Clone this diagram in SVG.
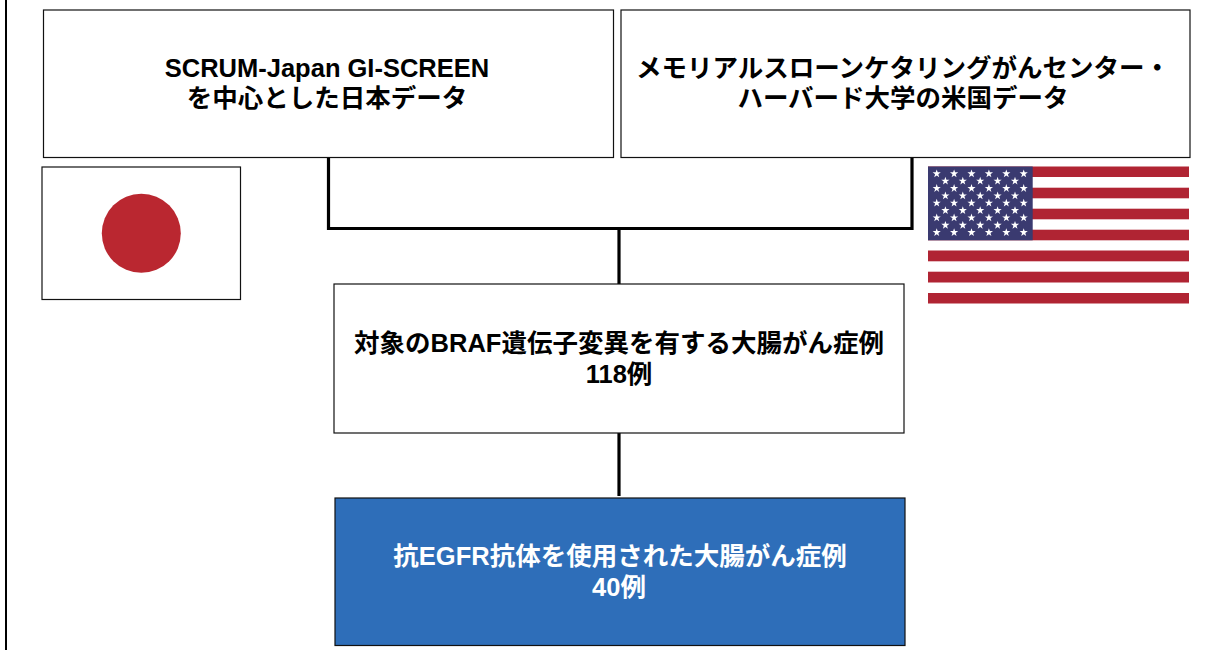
<svg xmlns="http://www.w3.org/2000/svg" xmlns:xlink="http://www.w3.org/1999/xlink" width="1215" height="650" viewBox="0 0 1215 650">
<style>
.box{fill:#fff;stroke:#111;stroke-width:1.2}
.t{font-family:"Liberation Sans","Noto Sans CJK JP",sans-serif;font-weight:700;font-size:25.5px;text-anchor:middle;fill:#000}
.w{fill:#fff}
.conn{fill:none;stroke:#000;stroke-width:3.2}
.red{fill:#b02433}
</style>
<defs>
<polygon id="s" points="0,-4.3 1,-1.4 4.1,-1.4 1.6,0.5 2.5,3.5 0,1.7 -2.5,3.5 -1.6,0.5 -4.1,-1.4 -1,-1.4" fill="#fff"/>
</defs>
<rect width="1215" height="650" fill="#fff"/>
<line x1="6" y1="0" x2="6" y2="650" stroke="#000" stroke-width="2"/>
<g id="connectors" class="conn">
<path d="M328.500 158V228.500H912V158"/>
<path d="M619 228.500V284"/>
<path d="M619 433V496"/>
</g>
<g id="node-japan-data">
<rect class="box" x="43.500" y="10" width="570" height="147.500"/>
<text class="t" x="327" y="77">SCRUM-Japan GI-SCREEN</text>
<text class="t" x="327" y="107">を中心とした日本データ</text>
</g>
<g id="node-us-data">
<rect class="box" x="621" y="10" width="569" height="147.500"/>
<text class="t" x="903" y="77">メモリアルスローンケタリングがんセンター・</text>
<text class="t" x="903" y="107">ハーバード大学の米国データ</text>
</g>
<g id="flag-japan">
<rect class="box" x="42" y="167" width="198.500" height="132.500"/>
<circle cx="141.300" cy="233.300" r="39.500" fill="#ba2730"/>
</g>
<g id="flag-us">
<rect class="red" x="928" y="166.500" width="261" height="10.500"/>
<rect class="red" x="928" y="187.700" width="261" height="10.600"/>
<rect class="red" x="928" y="208.700" width="261" height="10.600"/>
<rect class="red" x="928" y="229.700" width="261" height="10.600"/>
<rect class="red" x="928" y="250.500" width="261" height="10.800"/>
<rect class="red" x="928" y="271.700" width="261" height="10.800"/>
<rect class="red" x="928" y="293" width="261" height="10.500"/>
<rect x="928" y="166.500" width="104.700" height="73.800" fill="#3a3a70"/>
<g id="stars">
<g id="r6"><use xlink:href="#s" x="936.700" y="173.700"/><use xlink:href="#s" x="954.100" y="173.700"/><use xlink:href="#s" x="971.500" y="173.700"/><use xlink:href="#s" x="988.900" y="173.700"/><use xlink:href="#s" x="1006.300" y="173.700"/><use xlink:href="#s" x="1023.700" y="173.700"/></g>
<g id="r5"><use xlink:href="#s" x="945.400" y="181.100"/><use xlink:href="#s" x="962.800" y="181.100"/><use xlink:href="#s" x="980.200" y="181.100"/><use xlink:href="#s" x="997.600" y="181.100"/><use xlink:href="#s" x="1015" y="181.100"/></g>
<use xlink:href="#r6" y="14.700"/><use xlink:href="#r5" y="14.700"/>
<use xlink:href="#r6" y="29.400"/><use xlink:href="#r5" y="29.400"/>
<use xlink:href="#r6" y="44.100"/><use xlink:href="#r5" y="44.100"/>
<use xlink:href="#r6" y="58.800"/>
</g>
</g>
<g id="node-braf">
<rect class="box" x="334" y="284" width="570" height="149"/>
<text class="t" x="619" y="352">対象のBRAF遺伝子変異を有する大腸がん症例</text>
<text class="t" x="619" y="383">118例</text>
</g>
<g id="node-egfr">
<rect x="335" y="498" width="570" height="147.500" fill="#2e6eb9" stroke="#111" stroke-width="1.2"/>
<text class="t w" x="620" y="565">抗EGFR抗体を使用された大腸がん症例</text>
<text class="t w" x="619" y="596">40例</text>
</g>
</svg>
